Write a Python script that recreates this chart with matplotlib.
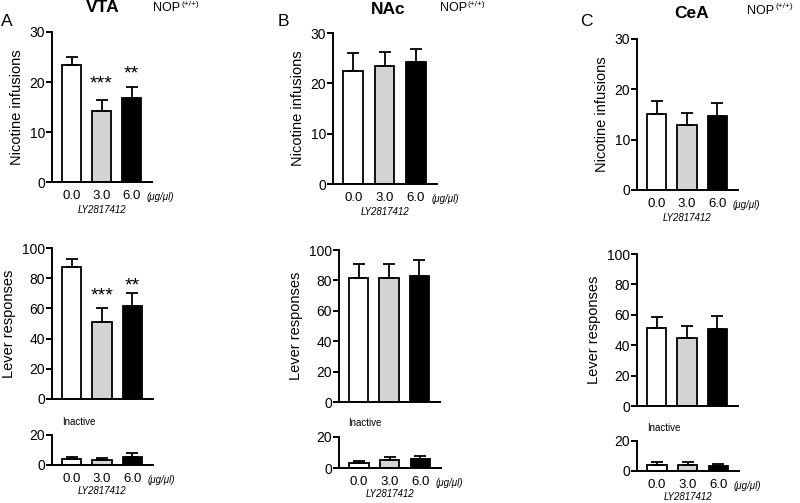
import numpy as np
import matplotlib
matplotlib.use("Agg")
from matplotlib import pyplot as plt

plt.rcParams['font.family'] = ['Liberation Sans', 'DejaVu Sans']

doses = ["0.0", "3.0", "6.0"]
colors = ["white", "#d4d4d4", "black"]

# VTA
vta_inf = [23.4, 14.2, 16.7]
vta_inf_err = [1.6, 2.2, 2.2]
vta_lev = [87.4, 51.2, 61.8]
vta_lev_err = [5.1, 8.8, 8.4]
vta_inact = [3.8, 3.3, 5.5]
vta_inact_err = [1.7, 1.6, 2.7]

# NAc
nac_inf = [22.5, 23.5, 24.2]
nac_inf_err = [3.5, 2.8, 2.7]
nac_lev = [81.4, 81.8, 83.1]
nac_lev_err = [9.6, 9.0, 10.1]
nac_inact = [3.0, 5.2, 5.6]
nac_inact_err = [1.7, 1.7, 2.3]

# CeA
cea_inf = [15.1, 12.9, 14.7]
cea_inf_err = [2.6, 2.3, 2.5]
cea_lev = [51.5, 45.0, 50.4]
cea_lev_err = [7.3, 7.4, 8.6]
cea_inact = [4.1, 3.9, 3.2]
cea_inact_err = [1.9, 1.9, 1.3]

W, H = 800, 503
fig = plt.figure(figsize=(W / 100, H / 100), dpi=100)


def axes_px(x0, x1, y0, y1):
    return fig.add_axes([x0 / W, 1 - y1 / H, (x1 - x0) / W, (y1 - y0) / H])


def bars(ax, vals, errs, top, step, ylabel=None, xlabels=True, ly_off=-20):
    x = np.arange(len(vals))
    ax.bar(x, vals, width=0.63, color=colors, edgecolor="black", linewidth=1.3, zorder=2)
    ax.errorbar(x, vals, yerr=[np.zeros(len(errs)), errs], fmt="none", ecolor="black",
                elinewidth=1.3, capsize=4, capthick=1.3, zorder=3)
    ax.set_xlim(-0.65, 2.68)
    ax.set_ylim(0, top)
    ax.set_yticks(np.arange(0, top + 1, step))
    for s in ["top", "right"]:
        ax.spines[s].set_visible(False)
    for s in ["left", "bottom"]:
        ax.spines[s].set_linewidth(1.4)
    ax.tick_params(axis="y", length=4, width=1.4, labelsize=10, pad=1)
    ax.tick_params(axis="x", length=0, labelsize=9.5, pad=5.6)
    ax.set_xticks(x)
    ax.set_xticklabels(doses)
    if ylabel:
        ax.set_ylabel(ylabel, fontsize=10.5, labelpad=4)
    if xlabels:
        ax.annotate("(μg/μl)", xy=(2.5, 0), xycoords=("data", "axes fraction"),
                    xytext=(0, -10.5), textcoords="offset points", fontsize=7,
                    style="italic", ha="left", va="center")
        ax.annotate("LY2817412", xy=(1, 0), xycoords=("data", "axes fraction"),
                    xytext=(0, ly_off), textcoords="offset points", fontsize=7,
                    style="italic", ha="center", va="center")


def stars(ax, xpos, y, s):
    ax.text(xpos, y, s, ha="center", va="center", fontsize=14)


# Panel A
a1 = axes_px(52, 152, 32, 182)
bars(a1, vta_inf, vta_inf_err, 30, 10, "Nicotine infusions")
stars(a1, 1, 19.6, "***")
stars(a1, 2, 21.6, "**")
a2 = axes_px(52, 153, 248, 399)
bars(a2, vta_lev, vta_lev_err, 100, 20, "Lever responses", xlabels=False)
a2.set_xticklabels([])
stars(a2, 1, 68, "***")
stars(a2, 2, 75, "**")
a3 = axes_px(52, 153, 435, 465)
bars(a3, vta_inact, vta_inact_err, 20, 20, ly_off=-19)

# Panel B
b1 = axes_px(333, 437, 33, 184)
bars(b1, nac_inf, nac_inf_err, 30, 10, "Nicotine infusions")
b2 = axes_px(339, 440, 250, 402)
bars(b2, nac_lev, nac_lev_err, 100, 20, "Lever responses", xlabels=False)
b2.set_xticklabels([])
b3 = axes_px(339, 441, 437, 468)
bars(b3, nac_inact, nac_inact_err, 20, 20, ly_off=-19)

# Panel C
c1 = axes_px(637, 738, 39, 190)
bars(c1, cea_inf, cea_inf_err, 30, 10, "Nicotine infusions")
c2 = axes_px(637, 738, 254, 406)
bars(c2, cea_lev, cea_lev_err, 100, 20, "Lever responses", xlabels=False)
c2.set_xticklabels([])
c3 = axes_px(637, 739, 441, 471)
bars(c3, cea_inact, cea_inact_err, 20, 20, ly_off=-18.5)

# panel labels and titles
for letter, lx, ly, title, tx, ty, nx, ny in [
        ("A", 1, 22, "VTA", 103, 8, 153, 8),
        ("B", 278, 21, "NAc", 388, 10, 440, 8),
        ("C", 580, 21, "CeA", 692, 13, 747, 11)]:
    fig.text(lx / W, 1 - ly / H, letter, fontsize=12.5, ha="left", va="center")
    fig.text(tx / W, 1 - ty / H, title, fontsize=12.5, fontweight="bold", ha="center", va="center")
    fig.text(nx / W, 1 - ny / H, "NOP", fontsize=9, ha="left", va="center")
    fig.text((nx + 28) / W, 1 - (ny - 4) / H, "(+/+)", fontsize=6, ha="left", va="center")

for ix, iy in [(62, 422), (348, 423), (647, 428)]:
    fig.text(ix / W, 1 - iy / H, "Inactive", fontsize=7, ha="left", va="center")

fig.savefig("out.png", dpi=100)
